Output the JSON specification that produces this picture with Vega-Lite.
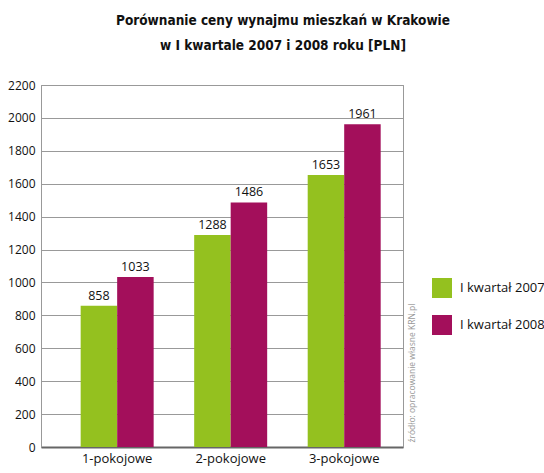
{
  "$schema": "https://vega.github.io/schema/vega-lite/v6.json",
  "autosize": "none",
  "padding": {"left": 41, "top": 85, "right": 141, "bottom": 26},
  "width": 362,
  "height": 362,
  "background": "white",
  "title": {
    "text": ["Porównanie ceny wynajmu mieszkań w Krakowie", "w I kwartale 2007 i 2008 roku [PLN]"],
    "font": "DejaVu Sans Condensed",
    "fontSize": 13.5,
    "fontWeight": "bold",
    "color": "#111111",
    "anchor": "middle",
    "frame": "group",
    "dx": 61,
    "offset": 27,
    "lineHeight": 25
  },
  "config": {
    "view": {"stroke": "#999999", "strokeWidth": 1},
    "font": "Open Sans"
  },
  "data": {
    "values": [
      {"typ": "1-pokojowe", "okres": "I kwartał 2007", "cena": 858},
      {"typ": "1-pokojowe", "okres": "I kwartał 2008", "cena": 1033},
      {"typ": "2-pokojowe", "okres": "I kwartał 2007", "cena": 1288},
      {"typ": "2-pokojowe", "okres": "I kwartał 2008", "cena": 1486},
      {"typ": "3-pokojowe", "okres": "I kwartał 2007", "cena": 1653},
      {"typ": "3-pokojowe", "okres": "I kwartał 2008", "cena": 1961}
    ]
  },
  "encoding": {
    "x": {
      "field": "typ",
      "type": "nominal",
      "scale": {"paddingInner": 0.357, "paddingOuter": 0.273, "align": 0.64},
      "axis": {
        "title": null,
        "labelAngle": 0,
        "labelFont": "Open Sans",
        "labelFontSize": 13,
        "labelColor": "#111111",
        "labelPadding": 5,
        "ticks": false,
        "domainColor": "#666666",
        "domainWidth": 2
      }
    },
    "xOffset": {"field": "okres", "type": "nominal", "scale": {"paddingInner": 0, "paddingOuter": 0}}
  },
  "layer": [
    {
      "mark": {"type": "bar"},
      "encoding": {
        "y": {
          "field": "cena",
          "type": "quantitative",
          "scale": {"domain": [0, 2200], "nice": false},
          "axis": {
            "title": null,
            "values": [0, 200, 400, 600, 800, 1000, 1200, 1400, 1600, 1800, 2000, 2200],
            "format": "d",
            "labelFont": "Open Sans",
            "labelFontSize": 12,
            "labelColor": "#111111",
            "labelPadding": 6,
            "ticks": false,
            "domainColor": "#999999",
            "gridColor": "#999999",
            "gridWidth": 1,
            "grid": true
          }
        },
        "color": {
          "field": "okres",
          "type": "nominal",
          "scale": {"domain": ["I kwartał 2007", "I kwartał 2008"], "range": ["#94c11f", "#a30f5b"]},
          "legend": {
            "title": null,
            "orient": "none",
            "legendX": 391,
            "legendY": 193,
            "symbolType": "square",
            "symbolSize": 400,
            "symbolStrokeWidth": 0,
            "symbolOpacity": 1,
            "labelFont": "Open Sans",
            "labelFontSize": 13,
            "labelColor": "#111111",
            "labelOffset": 8,
            "rowPadding": 17
          }
        }
      }
    },
    {
      "mark": {"type": "text", "baseline": "bottom", "dy": -3, "font": "Open Sans", "fontSize": 12.5, "color": "#111111"},
      "encoding": {
        "y": {
          "field": "cena",
          "type": "quantitative",
          "scale": {"domain": [0, 2200], "nice": false},
          "axis": {
            "orient": "right",
            "title": "źródło: opracowanie własne KRN.pl",
            "titleAngle": 270,
            "titleAnchor": "start",
            "titleAlign": "left",
            "titleBaseline": "top",
            "titleFont": "Open Sans",
            "titleFontSize": 8.5,
            "titleFontWeight": "normal",
            "titleColor": "#999999",
            "titlePadding": 4,
            "titleY": 357,
            "labels": false,
            "ticks": false,
            "grid": false,
            "domainColor": "#999999"
          }
        },
        "text": {"field": "cena", "type": "quantitative"}
      }
    }
  ],
  "resolve": {"scale": {"y": "independent"}, "axis": {"y": "independent"}}
}
